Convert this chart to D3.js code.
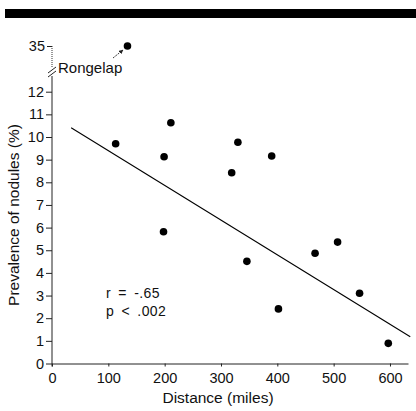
<!DOCTYPE html>
<html><head><meta charset="utf-8">
<script src="https://cdn.jsdelivr.net/npm/d3@7"></script>
<style>
body{margin:0;background:#fff;}
svg{display:block;font-family:"Liberation Sans",Arial,Helvetica,sans-serif;}
</style></head>
<body>
<svg id="c" width="416" height="411"></svg>
<script>
// distance (miles) and prevalence of nodules (%)
const distances = [113, 211, 199, 198, 330, 319, 390, 346, 467, 507, 546, 402, 597];
const prevalence = [9.70, 10.63, 9.13, 5.82, 9.77, 8.42, 9.16, 4.51, 4.87, 5.36, 3.10, 2.41, 0.89];
const outlierName = ["Rongelap"];
const outlierDistance = [134];
const outlierPrevalence = [35];
const fitX = [34, 636];
const fitY = [10.41, 1.18];
const xTicks = [0, 100, 200, 300, 400, 500, 600];
const yTicks = [0, 1, 2, 3, 4, 5, 6, 7, 8, 9, 10, 11, 12];
const yTopTicks = [35];
const stats = ["r = -.65", "p < .002"];

const svg = d3.select("#c");
const x = d3.scaleLinear().domain([0, 632]).range([52, 408]);
const y = d3.scaleLinear().domain([0, 12]).range([363.5, 91.7]);
const yTop = d3.scaleLinear().domain([34, 35]).range([67, 46]);

// top black bar
svg.append("rect").attr("x", 5).attr("y", 9).attr("width", 411).attr("height", 9).attr("fill", "#000");

const fs = "14.5px";
function styleAxis(g) {
  g.attr("font-family", null).attr("font-size", null);
  g.selectAll("text").attr("font-size", fs).attr("fill", "#111");
  g.selectAll(".tick line").attr("stroke", "#222");
}
// x axis
const gx = svg.append("g").attr("transform", `translate(0,${y(0)})`)
  .call(d3.axisBottom(x).tickValues(xTicks).tickSize(3).tickPadding(6).tickSizeOuter(0));
gx.select(".domain").attr("stroke", "#222");
styleAxis(gx);

// y axis lower
const gy = svg.append("g").attr("transform", `translate(${x(0)},0)`)
  .call(d3.axisLeft(y).tickValues(yTicks).tickSize(6).tickPadding(2).tickSizeOuter(0));
gy.select(".domain").attr("d", `M0,${y(0)+3}V76`).attr("stroke", "#222");
styleAxis(gy);

// y axis upper (above the break)
const gyt = svg.append("g").attr("transform", `translate(${x(0)},0)`)
  .call(d3.axisLeft(yTop).tickValues(yTopTicks).tickFormat(d3.format("d")).tickSize(5).tickPadding(2).tickSizeOuter(0));
gyt.select(".domain").attr("d", `M0,${yTop(35)}V67`).attr("stroke", "#333").attr("stroke-dasharray", "1,1");
styleAxis(gyt);

// break marks
const bx = x(0);
svg.append("rect").attr("x", bx - 1).attr("y", 67).attr("width", 2).attr("height", 9).attr("fill", "#fff");
[69, 73].forEach((by) => {
  svg.append("line").attr("x1", bx - 4).attr("y1", by + 4).attr("x2", bx + 4).attr("y2", by - 2)
    .attr("stroke", "#222").attr("stroke-width", 1);
});

// regression line
svg.append("line")
  .attr("x1", x(fitX[0])).attr("y1", y(fitY[0]))
  .attr("x2", x(fitX[1])).attr("y2", y(fitY[1]))
  .attr("stroke", "#000").attr("stroke-width", 1.1);

// points
svg.append("g").selectAll("circle").data(distances).join("circle")
  .attr("cx", (d) => x(d)).attr("cy", (d, i) => y(prevalence[i])).attr("r", 3.8).attr("fill", "#000");

// outlier
svg.append("circle").attr("cx", x(outlierDistance[0])).attr("cy", yTop(outlierPrevalence[0])).attr("r", 3.8).attr("fill", "#000");
svg.append("text").attr("x", 58).attr("y", 73).attr("font-size", "15px").attr("fill", "#111").text(outlierName[0]);
// arrow
svg.append("defs").append("marker").attr("id", "ah").attr("viewBox", "0 0 10 10")
  .attr("refX", 9).attr("refY", 5).attr("markerWidth", 5).attr("markerHeight", 5).attr("orient", "auto")
  .append("path").attr("d", "M0,0L10,5L0,10z").attr("fill", "#222");
svg.append("line").attr("x1", 113).attr("y1", 58).attr("x2", 123).attr("y2", 50)
  .attr("stroke", "#222").attr("stroke-width", 0.9).attr("stroke-dasharray", "2,1").attr("marker-end", "url(#ah)");

// stats
svg.append("g").selectAll("text").data(stats).join("text")
  .attr("x", 106).attr("y", (d, i) => 298 + i * 18)
  .attr("font-size", "14px").attr("word-spacing", "3px").attr("letter-spacing", "0.4px")
  .attr("fill", "#111").text((d) => d);

// axis titles
svg.append("text").attr("x", 218).attr("y", 403).attr("text-anchor", "middle")
  .attr("font-size", "15.5px").attr("fill", "#111").text("Distance (miles)");
svg.append("text").attr("transform", `translate(19,215) rotate(-90)`).attr("text-anchor", "middle")
  .attr("font-size", "15.5px").attr("fill", "#111").text("Prevalence of nodules (%)");
</script>
</body></html>
